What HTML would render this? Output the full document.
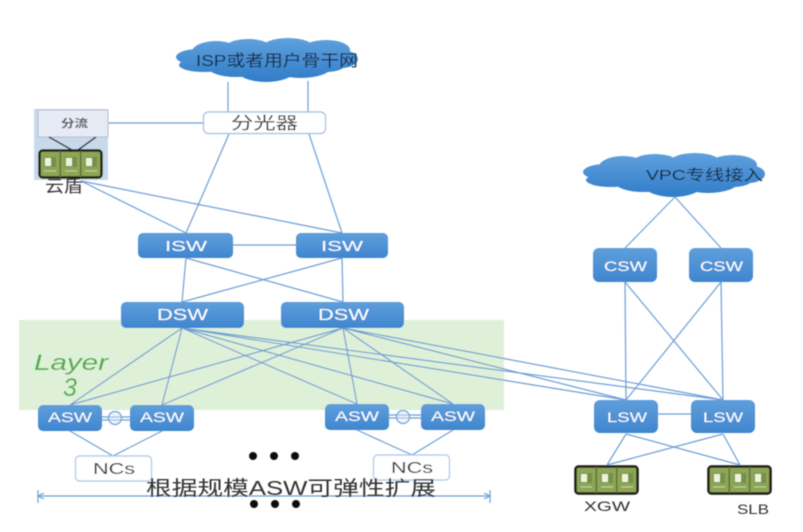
<!DOCTYPE html>
<html><head><meta charset="utf-8">
<style>
html,body{margin:0;padding:0;background:#fff;width:803px;height:532px;overflow:hidden}
svg{display:block}
text{font-family:"Liberation Sans","Noto Sans CJK SC",sans-serif}
</style></head>
<body>
<svg width="803" height="532" viewBox="0 0 803 532" xmlns="http://www.w3.org/2000/svg">
<defs>
<linearGradient id="b" x1="0" y1="0" x2="0" y2="1"><stop offset="0" stop-color="#5f9edb"/><stop offset="1" stop-color="#3f86cf"/></linearGradient>
<linearGradient id="c" gradientUnits="userSpaceOnUse" x1="0" y1="2" x2="0" y2="46"><stop offset="0" stop-color="#5f9fdc"/><stop offset="1" stop-color="#2f7cc8"/></linearGradient>
<filter id="s" x="-2%" y="-2%" width="104%" height="104%"><feGaussianBlur stdDeviation="0.5"/></filter>
<g id="srv">
<rect x="0.5" y="0.500" width="62" height="27" rx="3" fill="#8ca655" stroke="#1c1c14" stroke-width="2.500"/>
<rect x="20.500" y="1" width="1.5" height="26" fill="#5f6f3c"/><rect x="41" y="1" width="1.5" height="26" fill="#5f6f3c"/>
<rect x="5" y="7" width="12" height="10" fill="#74904a"/><rect x="26" y="7" width="12" height="10" fill="#74904a"/><rect x="46" y="7" width="12" height="10" fill="#74904a"/>
<rect x="6" y="8" width="6" height="8" fill="#eef2dc"/><rect x="27" y="8" width="6" height="8" fill="#eef2dc"/><rect x="47" y="8" width="6" height="8" fill="#eef2dc"/>
<path d="M5 21H17M26 21H38M46 21H58" stroke="#c9d4a8" stroke-width="1"/>
</g>
<g id="cloud">
<ellipse cx="91" cy="21" rx="88" ry="9" />
<ellipse cx="22" cy="20" rx="22" ry="8"/>
<ellipse cx="28" cy="28" rx="25" ry="7"/>
<ellipse cx="40" cy="15" rx="24" ry="11"/>
<ellipse cx="72" cy="12" rx="24" ry="10"/>
<ellipse cx="112" cy="11" rx="26" ry="10"/>
<ellipse cx="150" cy="13" rx="24" ry="10"/>
<ellipse cx="165" cy="22" rx="17" ry="9"/>
<ellipse cx="60" cy="30" rx="28" ry="10"/>
<ellipse cx="90" cy="34" rx="28" ry="11"/>
<ellipse cx="125" cy="30" rx="30" ry="11"/>
<ellipse cx="150" cy="27" rx="20" ry="8"/>
</g>
</defs>
<g filter="url(#s)">
<rect x="19" y="320" width="485" height="90" fill="#dff0d8"/>
<rect x="34" y="109" width="74" height="71" fill="#c9d9ec"/>

<g fill="none" stroke="#6d9fd6" stroke-width="1.2">
<path d="M228 82V112M308 81V112"/>
<path d="M108 123H203"/>
<path d="M229 134L186 233M309 134L342 233"/>
<path d="M81 181L186 233M81 181L342 233"/>
<path d="M233 245H296"/>
<path d="M186 258L182 302M186 258L343 302M342 258L182 302M342 258L343 302"/>
<path d="M182 328L70 405M182 328L162 405M182 328L357 404M182 328L453 404M182 328L626 400M182 328L723 400"/>
<path d="M343 328L70 405M343 328L162 405M343 328L357 404M343 328L453 404M343 328L626 400M343 328L723 400"/>
<path d="M70 431L113 456M162 431L113 456M357 430L412 455M453 430L412 455"/>
<path d="M102 417H130M102 420H130M389 415H421M389 418H421"/>
<path d="M675 197L625 248M675 197L721 248"/>
<path d="M625 282L626 400M625 282L723 400M721 282L626 400M721 282L723 400"/>
<path d="M658 414H691"/>
<path d="M626 434L607 465M626 434L740 465M723 434L607 465M723 434L740 465"/>
<path d="M38 496H490M38 490V503M490 490V503"/>
<path d="M44 493L38 496L44 499M484 493L490 496L484 499"/>
</g>
<circle cx="115" cy="418" r="6.5" fill="#dbe8f6" fill-opacity=".5" stroke="#6d9fd6" stroke-width="1.2"/>
<circle cx="403" cy="417" r="6.5" fill="#dbe8f6" fill-opacity=".5" stroke="#6d9fd6" stroke-width="1.2"/>

<use href="#cloud" x="176" y="37" fill="url(#c)"/>
<use href="#cloud" x="583" y="152" fill="url(#c)"/>
<text x="196" y="66" font-size="16" fill="#12263f" textLength="162" lengthAdjust="spacingAndGlyphs">ISP或者用户骨干网</text>
<text x="646" y="180" font-size="15" fill="#12263f" textLength="117" lengthAdjust="spacingAndGlyphs">VPC专线接入</text>

<rect x="203.500" y="112" width="122" height="21.500" rx="5" fill="#fff" stroke="#9dbde2" stroke-width="1.2"/>
<text x="231" y="129" font-size="17" fill="#333" textLength="67" lengthAdjust="spacingAndGlyphs">分光器</text>

<rect x="38" y="110" width="70" height="27" fill="#e6ebf6" stroke="#b5bcc8"/>
<text x="61" y="127" font-size="11" font-weight="bold" fill="#555" textLength="27" lengthAdjust="spacingAndGlyphs">分流</text>
<path d="M49 137L72 150M96 137L78 150" stroke="#222" stroke-width="1.4" fill="none"/>
<use href="#srv" x="39" y="150"/>
<text x="45" y="192" font-size="17" fill="#333" textLength="38" lengthAdjust="spacingAndGlyphs">云盾</text>

<g fill="url(#b)">
<rect x="138" y="233" width="95" height="25" rx="5"/>
<rect x="296" y="233" width="92" height="25" rx="5"/>
<rect x="121" y="302" width="123" height="26" rx="5"/>
<rect x="281" y="302" width="123" height="26" rx="5"/>
<rect x="38" y="405" width="64" height="26" rx="5"/>
<rect x="130" y="405" width="64" height="26" rx="5"/>
<rect x="325" y="404" width="64" height="26" rx="5"/>
<rect x="421" y="404" width="64" height="26" rx="5"/>
<rect x="593" y="248" width="64" height="34" rx="6"/>
<rect x="689" y="248" width="64" height="34" rx="6"/>
<rect x="594" y="400" width="64" height="33" rx="6"/>
<rect x="691" y="400" width="64" height="33" rx="6"/>
</g>
<g fill="#fff" font-size="15">
<text x="165" y="251" textLength="42" lengthAdjust="spacingAndGlyphs">ISW</text>
<text x="321" y="251" textLength="42" lengthAdjust="spacingAndGlyphs">ISW</text>
<text x="157" y="320" font-size="16" textLength="51" lengthAdjust="spacingAndGlyphs">DSW</text>
<text x="318" y="320" font-size="16" textLength="51" lengthAdjust="spacingAndGlyphs">DSW</text>
<text x="48" y="422" font-size="14" textLength="44" lengthAdjust="spacingAndGlyphs">ASW</text>
<text x="140" y="422" font-size="14" textLength="44" lengthAdjust="spacingAndGlyphs">ASW</text>
<text x="335" y="421" font-size="14" textLength="44" lengthAdjust="spacingAndGlyphs">ASW</text>
<text x="431" y="421" font-size="14" textLength="44" lengthAdjust="spacingAndGlyphs">ASW</text>
<text x="604" y="271" font-size="14" textLength="43" lengthAdjust="spacingAndGlyphs">CSW</text>
<text x="700" y="271" font-size="14" textLength="43" lengthAdjust="spacingAndGlyphs">CSW</text>
<text x="607" y="422" font-size="14" textLength="40" lengthAdjust="spacingAndGlyphs">LSW</text>
<text x="703" y="422" font-size="14" textLength="40" lengthAdjust="spacingAndGlyphs">LSW</text>
</g>
<text x="34" y="370" font-size="22" font-style="italic" fill="#4fae46" textLength="74" lengthAdjust="spacingAndGlyphs">Layer</text>
<text x="70" y="396" font-size="25" font-style="italic" fill="#4fae46" text-anchor="middle">3</text>

<rect x="75.500" y="456" width="76" height="25" rx="4" fill="#fff" stroke="#a9c5e6" stroke-width="1.2"/>
<rect x="373.500" y="455" width="76" height="25" rx="4" fill="#fff" stroke="#a9c5e6" stroke-width="1.2"/>
<text x="93" y="474" font-size="16" fill="#333" textLength="42" lengthAdjust="spacingAndGlyphs">NCs</text>
<text x="391" y="473" font-size="16" fill="#333" textLength="42" lengthAdjust="spacingAndGlyphs">NCs</text>

<g fill="#111">
<circle cx="253" cy="456" r="4"/><circle cx="274" cy="456" r="4"/><circle cx="295" cy="456" r="4"/>
<circle cx="254" cy="504" r="4"/><circle cx="275" cy="504" r="4"/><circle cx="296" cy="504" r="4"/>
</g>
<text x="146" y="495" font-size="20" fill="#333" textLength="290" lengthAdjust="spacingAndGlyphs">根据规模ASW可弹性扩展</text>

<use href="#srv" x="575" y="466"/>
<use href="#srv" x="708" y="466"/>
<text x="584" y="511" font-size="14" fill="#333" textLength="46" lengthAdjust="spacingAndGlyphs">XGW</text>
<text x="737" y="514" font-size="14" fill="#333" textLength="32" lengthAdjust="spacingAndGlyphs">SLB</text>
</g>
</svg>
</body></html>
